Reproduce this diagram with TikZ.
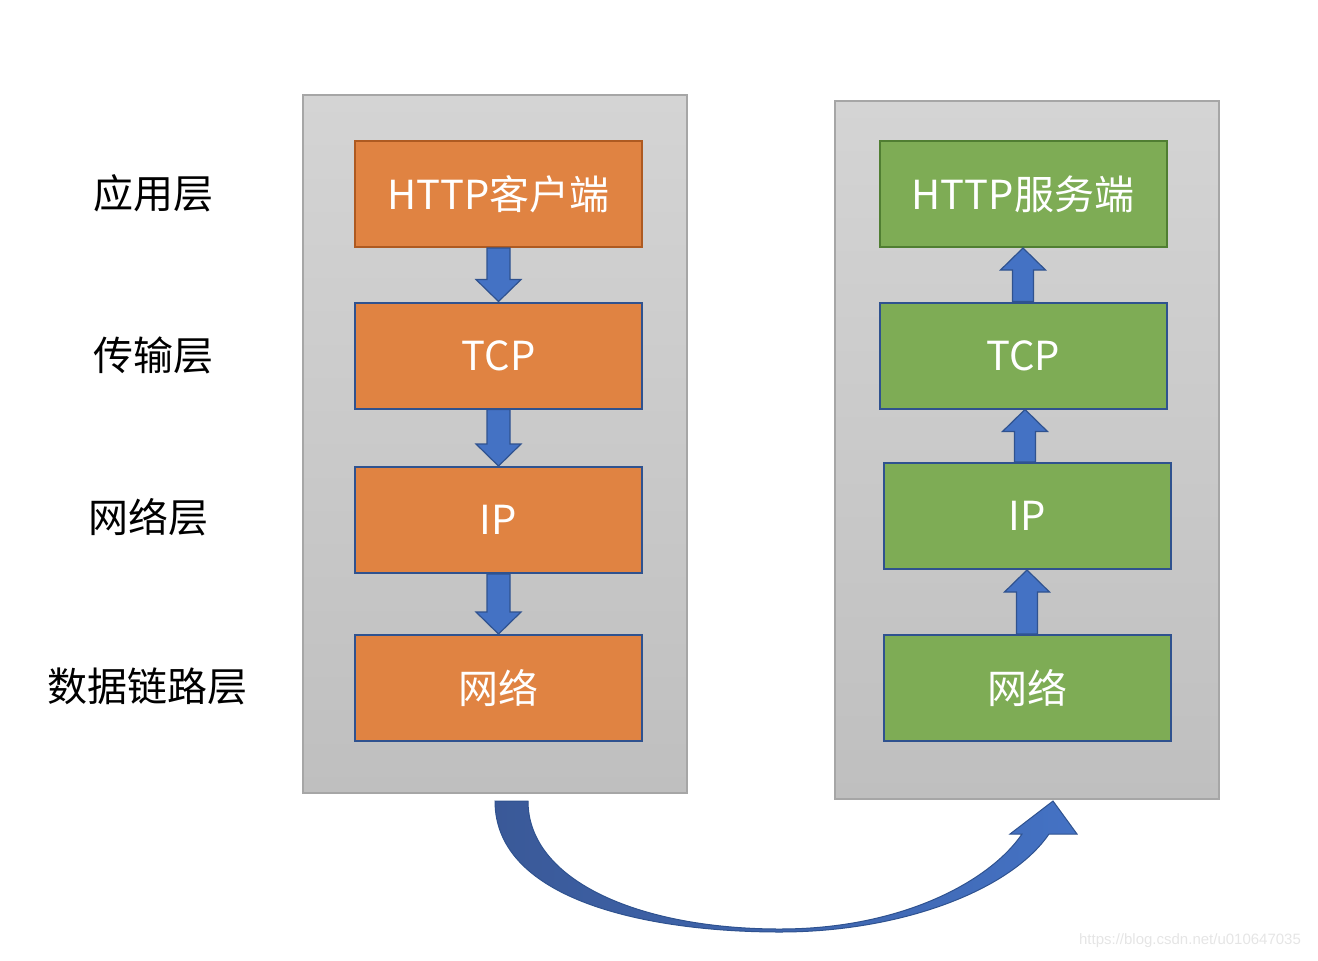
\documentclass[tikz,border=0pt]{standalone}
\usepackage{fontspec}
\newfontfamily\cjk{Noto Sans CJK SC}
\newfontfamily\wmfont{Liberation Sans}
\usetikzlibrary{calc}
\definecolor{boxorange}{RGB}{224,131,66}
\definecolor{orangeline}{RGB}{174,90,33}
\definecolor{boxgreen}{RGB}{126,172,85}
\definecolor{greenline}{RGB}{80,126,50}
\definecolor{lineblue}{RGB}{47,82,143}
\definecolor{arrblue}{RGB}{68,114,196}
\definecolor{arrdark}{RGB}{58,89,152}
\definecolor{stacktop}{RGB}{212,212,212}
\definecolor{stackbot}{RGB}{191,191,191}
\definecolor{stackline}{RGB}{166,166,166}
\tikzset{
  stack/.style={draw=stackline, line width=1pt, top color=stacktop, bottom color=stackbot,
    minimum width=192pt, minimum height=349pt, inner sep=0pt},
  layer/.style={draw=lineblue, line width=1pt, minimum width=143.5pt, minimum height=53pt,
    inner sep=0pt, text=white, font=\cjk\fontsize{20}{24}\selectfont},
  layername/.style={font=\cjk\fontsize{20}{24}\selectfont, text=black},
  blockarr/.style={draw=lineblue, line width=0.6pt, fill=arrblue, line join=miter},
  curvearr/.style={draw=lineblue, line width=0.5pt, left color=arrdark, right color=arrblue}
}
\begin{document}
\begin{tikzpicture}[x=0.5pt,y=-0.5pt]
  \useasboundingbox (0,0) rectangle (1318,960);
  % grey stacks
  \node[stack] (lstack) at (495,444) {};
  \node[stack] (rstack) at (1027,450) {};

  % layer names
  \node[layername] (app)  at (153,193) {应用层};
  \node[layername] (tran) at (153,355) {传输层};
  \node[layername] (net)  at (148,517) {网络层};
  \node[layername] (link) at (147,686) {数据链路层};

  % client side
  \node[layer, fill=boxorange, draw=orangeline] (lh) at (498.5,194) {HTTP客户端};
  \node[layer, fill=boxorange] (lt) at (498.5,355.5) {TCP};
  \node[layer, fill=boxorange] (li) at (498.5,520) {IP};
  \node[layer, fill=boxorange] (ln) at (498.5,688) {网络};

  % server side
  \node[layer, fill=boxgreen, draw=greenline] (rh) at (1023,194) {HTTP服务端};
  \node[layer, fill=boxgreen] (rt) at (1023,355.5) {TCP};
  \node[layer, fill=boxgreen] (ri) at (1027,516) {IP};
  \node[layer, fill=boxgreen] (rn) at (1027,688) {网络};

  % down arrows
  \foreach \a/\b in {lh/lt,lt/li,li/ln}
    \draw[blockarr] let \p1=(\a.south), \p2=(\b.north) in
      (\x1-5.75pt,\y1) -- (\x1+5.75pt,\y1) -- (\x1+5.75pt,\y2+11pt) -- (\x1+11.25pt,\y2+11pt)
      -- (\x1,\y2) -- (\x1-11.25pt,\y2+11pt) -- (\x1-5.75pt,\y2+11pt) -- cycle;

  % up arrows
  \foreach \a/\b in {rn/ri,ri/rt,rt/rh}
    \draw[blockarr] let \p1=(\a.north), \p2=(\b.south), \p3=($(\a.north)!.5!(\b.south)$) in
      (\x3-5.25pt,\y1) -- (\x3+5.25pt,\y1) -- (\x3+5.25pt,\y2-11pt) -- (\x3+11.25pt,\y2-11pt)
      -- (\x3,\y2) -- (\x3-11.25pt,\y2-11pt) -- (\x3-5.25pt,\y2-11pt) -- cycle;

  % curved arrow
  \coordinate (cs) at ([yshift=-3.5pt]lstack.south);
  \draw[curvearr] (cs) .. controls +(0,100) and +(-130,0) .. ++(285,131)
    .. controls +(120,0) and +(-39,57) .. ++(269,-98)
    -- ++(28,0) -- ++(-24,-33) -- ++(-43,33) -- ++(12,0)
    .. controls +(-32,47) and +(122,0) .. ++(-242,95)
    .. controls +(-140,0) and +(0,80) .. ++(-252,-128) -- cycle;

  \node[font=\wmfont\fontsize{7.5}{9}\selectfont, text=black!10, anchor=east] (wm)
    at (1308,941) {https://blog.csdn.net/u010647035};
\end{tikzpicture}
\end{document}
